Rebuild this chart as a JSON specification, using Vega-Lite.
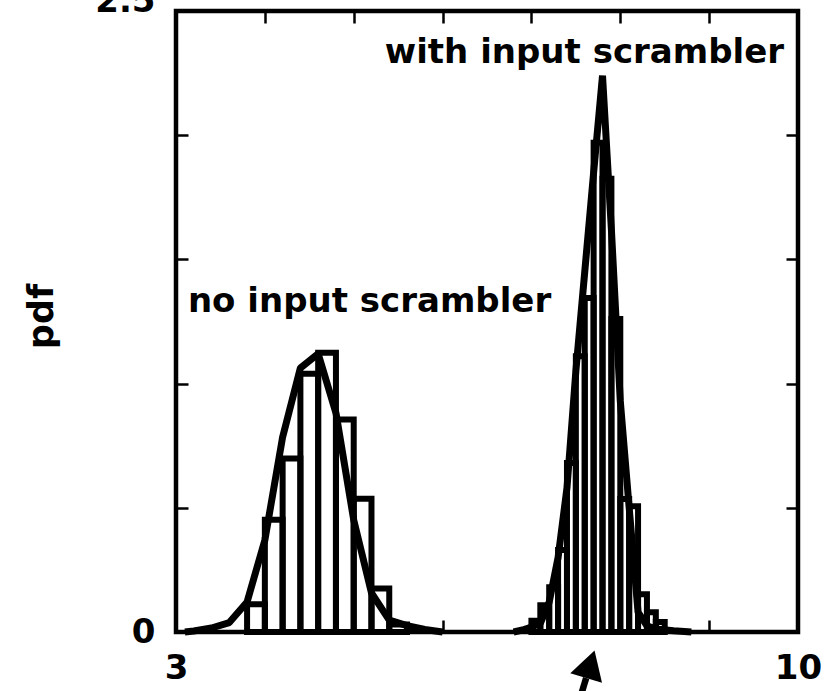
{
  "$schema": "https://vega.github.io/schema/vega-lite/v6.json",
  "width": 622,
  "height": 621,
  "autosize": {"type": "none"},
  "padding": {"left": 176, "top": 11, "right": 38, "bottom": 59},
  "background": "white",
  "config": {
    "view": {"stroke": "black", "strokeWidth": 4.5},
    "axis": {"grid": false, "domain": false}
  },
  "datasets": {
    "leftBars": [
      {"x0": 3.8, "x1": 4.0, "h": 0.112},
      {"x0": 4.0, "x1": 4.2, "h": 0.452},
      {"x0": 4.2, "x1": 4.4, "h": 0.698},
      {"x0": 4.4, "x1": 4.6, "h": 1.04},
      {"x0": 4.6, "x1": 4.8, "h": 1.124},
      {"x0": 4.8, "x1": 5.0, "h": 0.855},
      {"x0": 5.0, "x1": 5.2, "h": 0.536},
      {"x0": 5.2, "x1": 5.4, "h": 0.175},
      {"x0": 5.4, "x1": 5.6, "h": 0.03}
    ],
    "rightBars": [
      {"x0": 7.0, "x1": 7.1, "h": 0.045},
      {"x0": 7.1, "x1": 7.2, "h": 0.108},
      {"x0": 7.2, "x1": 7.3, "h": 0.18},
      {"x0": 7.3, "x1": 7.4, "h": 0.33},
      {"x0": 7.4, "x1": 7.5, "h": 0.68},
      {"x0": 7.5, "x1": 7.6, "h": 1.11},
      {"x0": 7.6, "x1": 7.7, "h": 1.345},
      {"x0": 7.7, "x1": 7.8, "h": 1.97},
      {"x0": 7.8, "x1": 7.9, "h": 1.825},
      {"x0": 7.9, "x1": 8.0, "h": 1.26},
      {"x0": 8.0, "x1": 8.1, "h": 0.535},
      {"x0": 8.1, "x1": 8.2, "h": 0.506},
      {"x0": 8.2, "x1": 8.3, "h": 0.152},
      {"x0": 8.3, "x1": 8.4, "h": 0.08},
      {"x0": 8.4, "x1": 8.5, "h": 0.04}
    ],
    "leftCurve": [
      {"x": 3.1, "y": 0.0},
      {"x": 3.2, "y": 0.004},
      {"x": 3.4, "y": 0.016},
      {"x": 3.6, "y": 0.038},
      {"x": 3.8, "y": 0.121},
      {"x": 4.0, "y": 0.37},
      {"x": 4.2, "y": 0.785},
      {"x": 4.4, "y": 1.063},
      {"x": 4.6, "y": 1.12},
      {"x": 4.8, "y": 0.882},
      {"x": 5.0, "y": 0.451},
      {"x": 5.2, "y": 0.157},
      {"x": 5.4, "y": 0.048},
      {"x": 5.6, "y": 0.026},
      {"x": 5.8, "y": 0.01},
      {"x": 6.0, "y": 0.0}
    ],
    "rightCurve": [
      {"x": 6.8, "y": 0.0},
      {"x": 6.9, "y": 0.008},
      {"x": 7.0, "y": 0.02},
      {"x": 7.1, "y": 0.035},
      {"x": 7.2, "y": 0.12},
      {"x": 7.3, "y": 0.3},
      {"x": 7.4, "y": 0.58},
      {"x": 7.5, "y": 1.05},
      {"x": 7.6, "y": 1.45},
      {"x": 7.7, "y": 1.85},
      {"x": 7.8, "y": 2.24},
      {"x": 7.9, "y": 1.62},
      {"x": 8.0, "y": 0.93},
      {"x": 8.1, "y": 0.5},
      {"x": 8.2, "y": 0.08},
      {"x": 8.3, "y": 0.025},
      {"x": 8.4, "y": 0.012},
      {"x": 8.6, "y": 0.005},
      {"x": 8.8, "y": 0.0}
    ],
    "labels": [
      {"x": 5.178, "y": 1.288, "text": "no input scrambler"},
      {"x": 7.596, "y": 2.29, "text": "with input scrambler"}
    ],
    "arrowShaft": [
      {"x": 7.524, "y": -0.294, "x2": 7.616, "y2": -0.185}
    ],
    "arrowHead": [
      {"x": 7.663, "y": -0.13}
    ]
  },
  "resolve": {"axis": {"x": "independent", "y": "independent"}},
  "layer": [
    {
      "data": {"name": "leftBars"},
      "mark": {"type": "rect", "filled": false, "stroke": "black", "strokeWidth": 6},
      "encoding": {
        "x": {
          "field": "x0", "type": "quantitative",
          "scale": {"domain": [3, 10], "nice": false, "zero": false},
          "axis": {
            "orient": "bottom", "values": [3, 4, 5, 6, 7, 8, 9, 10],
            "labelExpr": "datum.value === 3 || datum.value === 10 ? datum.label : ''",
            "ticks": true, "tickSize": -12, "tickWidth": 2.5, "tickColor": "black",
            "labelFont": "DejaVu Sans", "labelFontWeight": "bold", "labelFontSize": 34, "labelColor": "black",
            "labelPadding": 31, "labelOverlap": false, "labelBound": false, "labelFlush": false,
            "title": null
          }
        },
        "x2": {"field": "x1"},
        "y": {
          "field": "h", "type": "quantitative",
          "scale": {"domain": [0, 2.5], "nice": false},
          "axis": {
            "orient": "left", "values": [0, 0.5, 1, 1.5, 2, 2.5],
            "labelExpr": "datum.value === 0 ? '0' : (datum.value === 2.5 ? '2.5' : '')",
            "ticks": true, "tickSize": -12, "tickWidth": 2.5, "tickColor": "black",
            "labelFont": "DejaVu Sans", "labelFontWeight": "bold", "labelFontSize": 34, "labelColor": "black",
            "labelPadding": 33, "labelOverlap": false, "labelBound": false, "labelFlush": false,
            "labelBaseline": {"condition": {"test": "datum.value === 2.5", "value": "alphabetic"}, "value": "middle"},
            "title": "pdf", "titleFont": "DejaVu Sans", "titleFontWeight": "bold", "titleFontSize": 35,
            "titleColor": "black", "titleX": -124, "titleY": 305, "titleAngle": -90,
            "titleAlign": "center", "titleBaseline": "alphabetic"
          }
        },
        "y2": {"datum": 0}
      }
    },
    {
      "data": {"name": "rightBars"},
      "mark": {"type": "rect", "filled": false, "stroke": "black", "strokeWidth": 6},
      "encoding": {
        "x": {
          "field": "x0", "type": "quantitative",
          "scale": {"domain": [3, 10], "nice": false, "zero": false},
          "axis": {
            "orient": "top", "values": [4, 5, 6, 7, 8, 9], "labels": false,
            "ticks": true, "tickSize": -12, "tickWidth": 2.5, "tickColor": "black", "title": null
          }
        },
        "x2": {"field": "x1"},
        "y": {
          "field": "h", "type": "quantitative",
          "scale": {"domain": [0, 2.5], "nice": false},
          "axis": {
            "orient": "right", "values": [0.5, 1, 1.5, 2], "labels": false,
            "ticks": true, "tickSize": -12, "tickWidth": 2.5, "tickColor": "black", "title": null
          }
        },
        "y2": {"datum": 0}
      }
    },
    {
      "data": {"name": "leftCurve"},
      "mark": {"type": "line", "color": "black", "strokeWidth": 7, "strokeJoin": "bevel"},
      "encoding": {
        "x": {"field": "x", "type": "quantitative", "scale": {"domain": [3, 10], "nice": false, "zero": false}, "axis": null},
        "y": {"field": "y", "type": "quantitative", "scale": {"domain": [0, 2.5], "nice": false}, "axis": null}
      }
    },
    {
      "data": {"name": "rightCurve"},
      "mark": {"type": "line", "color": "black", "strokeWidth": 7, "strokeJoin": "bevel"},
      "encoding": {
        "x": {"field": "x", "type": "quantitative", "scale": {"domain": [3, 10], "nice": false, "zero": false}, "axis": null},
        "y": {"field": "y", "type": "quantitative", "scale": {"domain": [0, 2.5], "nice": false}, "axis": null}
      }
    },
    {
      "data": {"name": "labels"},
      "mark": {"type": "text", "font": "DejaVu Sans", "fontWeight": "bold", "fontSize": 34, "color": "black", "align": "center", "baseline": "alphabetic"},
      "encoding": {
        "x": {"field": "x", "type": "quantitative", "scale": {"domain": [3, 10], "nice": false, "zero": false}, "axis": null},
        "y": {"field": "y", "type": "quantitative", "scale": {"domain": [0, 2.5], "nice": false}, "axis": null},
        "text": {"field": "text"}
      }
    },
    {
      "data": {"name": "arrowShaft"},
      "mark": {"type": "rule", "color": "black", "strokeWidth": 6.5},
      "encoding": {
        "x": {"field": "x", "type": "quantitative", "scale": {"domain": [3, 10], "nice": false, "zero": false}, "axis": null},
        "y": {"field": "y", "type": "quantitative", "scale": {"domain": [0, 2.5], "nice": false}, "axis": null},
        "x2": {"field": "x2"},
        "y2": {"field": "y2"}
      }
    },
    {
      "data": {"name": "arrowHead"},
      "mark": {"type": "point", "shape": "triangle-up", "filled": true, "color": "black", "size": 1100, "angle": 17, "opacity": 1},
      "encoding": {
        "x": {"field": "x", "type": "quantitative", "scale": {"domain": [3, 10], "nice": false, "zero": false}, "axis": null},
        "y": {"field": "y", "type": "quantitative", "scale": {"domain": [0, 2.5], "nice": false}, "axis": null}
      }
    }
  ]
}
